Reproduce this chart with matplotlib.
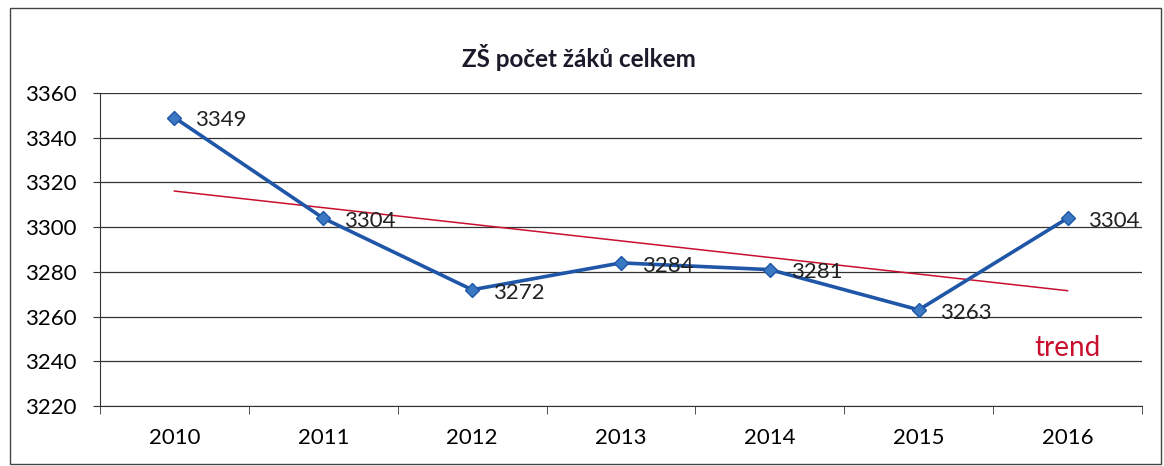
import numpy as np
import matplotlib.pyplot as plt
from matplotlib.patches import Rectangle

# data
roky = ["2010", "2011", "2012", "2013", "2014", "2015", "2016"]
zaci = [3349, 3304, 3272, 3284, 3281, 3263, 3304]

plt.rcParams['font.family'] = ['Lato', 'DejaVu Sans']

fig = plt.figure(figsize=(11.64, 4.66), dpi=100)
ax = fig.add_axes([0.0859, 0.1288, 0.8952, 0.6716])

x = np.arange(len(roky))

# linearni trend
k, q = np.polyfit(x, zaci, 1)
ax.plot(x, k * x + q, color='#c8102e', lw=1.1, zorder=2)

ax.plot(x, zaci, color='#1f56a8', lw=2.6, marker='D', markersize=7.5,
        markerfacecolor='#3a78c2', markeredgecolor='#1f56a8', zorder=3)

for xi, yi in zip(x, zaci):
    ax.annotate(str(yi), (xi, yi), xytext=(15, -2), textcoords='offset points',
                ha='left', va='center', fontsize=16, color='#222222')

ax.text(6, 3246, "trend", color='#c8102e', fontsize=20, ha='center', va='center')

ax.set_xlim(-0.5, 6.5)
ax.set_ylim(3220, 3360)
ax.set_yticks(np.arange(3220, 3361, 20))
ax.set_xticks(x)
ax.set_xticklabels(roky)
ax.set_xticks(np.arange(-0.5, 7, 1), minor=True)
ax.tick_params(axis='x', which='major', length=0, pad=16, labelsize=16)
ax.tick_params(axis='x', which='minor', length=6, color='#333333')
ax.tick_params(axis='y', length=5, color='#333333', labelsize=16, pad=12)

ax.grid(axis='y', color='#333333', lw=0.9)
ax.set_axisbelow(True)
for s in ['top', 'right']:
    ax.spines[s].set_visible(False)
ax.spines['left'].set_color('#333333')
ax.spines['bottom'].set_color('#333333')

fig.text(0.497, 0.877, "ZŠ počet žáků celkem", ha='center', va='center',
         fontsize=17.5, fontweight='bold', color='#1a1a2a')

fig.patches.append(Rectangle((0.009, 0.005), 0.988, 0.978, transform=fig.transFigure,
                             fill=False, edgecolor='#444444', lw=1))

plt.savefig("out.png", dpi=100)
